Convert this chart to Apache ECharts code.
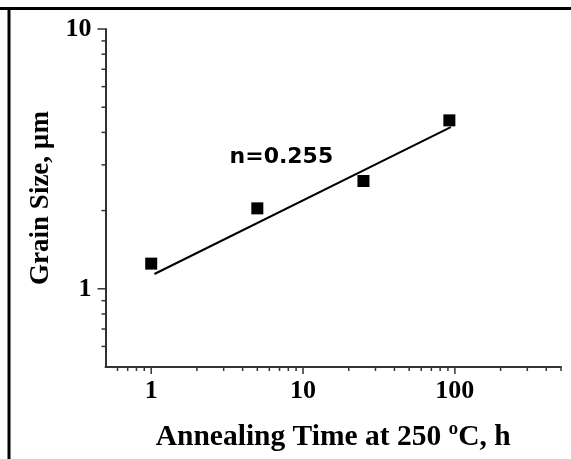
<!DOCTYPE html>
<html>
<head>
<meta charset="utf-8">
<script src="https://cdn.jsdelivr.net/npm/echarts@6/dist/echarts.min.js"></script>
<style>
  html, body { margin: 0; padding: 0; background: #fff; }
  #chart { width: 571px; height: 459px; }
</style>
</head>
<body>
<div id="chart"></div>
<script>
// measured grain size vs annealing time
const timeHours = [1, 5, 25, 92];
const grainSize = [1.25, 2.04, 2.6, 4.45];

// fitted line endpoints
const fitTime = [1.05, 94];
const fitSize = [1.14, 4.19];

// log axis tick values
const xMajorTicks = [1, 10, 100];
const xMinorTicks = [0.6, 0.7, 0.8, 0.9, 2, 3, 4, 5, 6, 7, 8, 9,
  20, 30, 40, 50, 60, 70, 80, 90, 200, 300, 400, 500];
const yMajorTicks = [1, 10];
const yMinorTicks = [0.6, 0.7, 0.8, 0.9, 2, 3, 4, 5, 6, 7, 8, 9];

const X_MIN = 0.5, X_MAX = 500, Y_MIN = 0.5, Y_MAX = 10;
const serif = 'Liberation Serif';
const axisColor = '#333';

const chart = echarts.init(document.getElementById('chart'), null, { renderer: 'canvas' });

// tick data: [x, y, length]
const xTickData = xMajorTicks.map(v => [v, Y_MIN, 7]).concat(xMinorTicks.map(v => [v, Y_MIN, 4]));
const yTickData = yMajorTicks.map(v => [X_MIN, v, 8]).concat(yMinorTicks.map(v => [X_MIN, v, 4]));

chart.setOption({
  backgroundColor: '#fff',
  animation: false,
  grid: { left: 105.5, right: 10, top: 29, bottom: 92 },
  xAxis: {
    type: 'log',
    min: X_MIN,
    max: X_MAX,
    name: 'Annealing Time at 250 ºC, h',
    nameLocation: 'middle',
    nameGap: 55,
    nameTextStyle: { fontFamily: serif, fontWeight: 'bold', fontSize: 29.5, color: '#000' },
    axisLine: { lineStyle: { color: axisColor, width: 2 } },
    axisTick: { show: false },
    splitLine: { show: false },
    axisLabel: {
      showMinLabel: false,
      showMaxLabel: false,
      margin: 11,
      fontFamily: serif, fontWeight: 'bold', fontSize: 26, color: '#000'
    }
  },
  yAxis: {
    type: 'log',
    min: Y_MIN,
    max: Y_MAX,
    name: 'Grain Size, µm',
    nameLocation: 'middle',
    nameGap: 48,
    nameTextStyle: { fontFamily: serif, fontWeight: 'bold', fontSize: 27, color: '#000' },
    axisLine: { show: true, lineStyle: { color: axisColor, width: 2 } },
    axisTick: { show: false },
    splitLine: { show: false },
    axisLabel: {
      showMinLabel: false,
      margin: 14,
      fontFamily: serif, fontWeight: 'bold', fontSize: 26, color: '#000'
    }
  },
  graphic: [
    { type: 'line', shape: { x1: 0, y1: 8.5, x2: 571, y2: 8.5 }, style: { stroke: '#000', lineWidth: 3 } },
    { type: 'line', shape: { x1: 9, y1: 7, x2: 9, y2: 459 }, style: { stroke: '#000', lineWidth: 3 } }
  ],
  series: [
    {
      name: 'fit',
      type: 'line',
      data: fitTime.map((t, i) => [t, fitSize[i]]),
      symbol: 'none',
      lineStyle: { color: '#000', width: 2 },
      markPoint: {
        symbolSize: 0,
        data: [{ coord: [7.2, 3.22] }],
        label: {
          show: true,
          position: 'inside',
          formatter: 'n=0.255',
          fontFamily: 'DejaVu Sans',
          fontWeight: 'bold',
          fontSize: 22,
          color: '#000'
        }
      }
    },
    {
      name: 'grain size',
      type: 'scatter',
      data: timeHours.map((t, i) => [t, grainSize[i]]),
      symbol: 'rect',
      symbolSize: 12,
      itemStyle: { color: '#000', opacity: 1 }
    },
    {
      name: 'xTicks',
      type: 'custom',
      clip: false,
      silent: true,
      data: xTickData,
      renderItem: function (params, api) {
        const p = api.coord([api.value(0), api.value(1)]);
        return {
          type: 'line',
          shape: { x1: p[0], y1: p[1], x2: p[0], y2: p[1] + api.value(2) },
          style: { stroke: axisColor, lineWidth: 1.5 }
        };
      }
    },
    {
      name: 'yTicks',
      type: 'custom',
      clip: false,
      silent: true,
      data: yTickData,
      renderItem: function (params, api) {
        const p = api.coord([api.value(0), api.value(1)]);
        return {
          type: 'line',
          shape: { x1: p[0], y1: p[1], x2: p[0] - api.value(2), y2: p[1] },
          style: { stroke: axisColor, lineWidth: 1.5 }
        };
      }
    }
  ]
});
</script>
</body>
</html>
